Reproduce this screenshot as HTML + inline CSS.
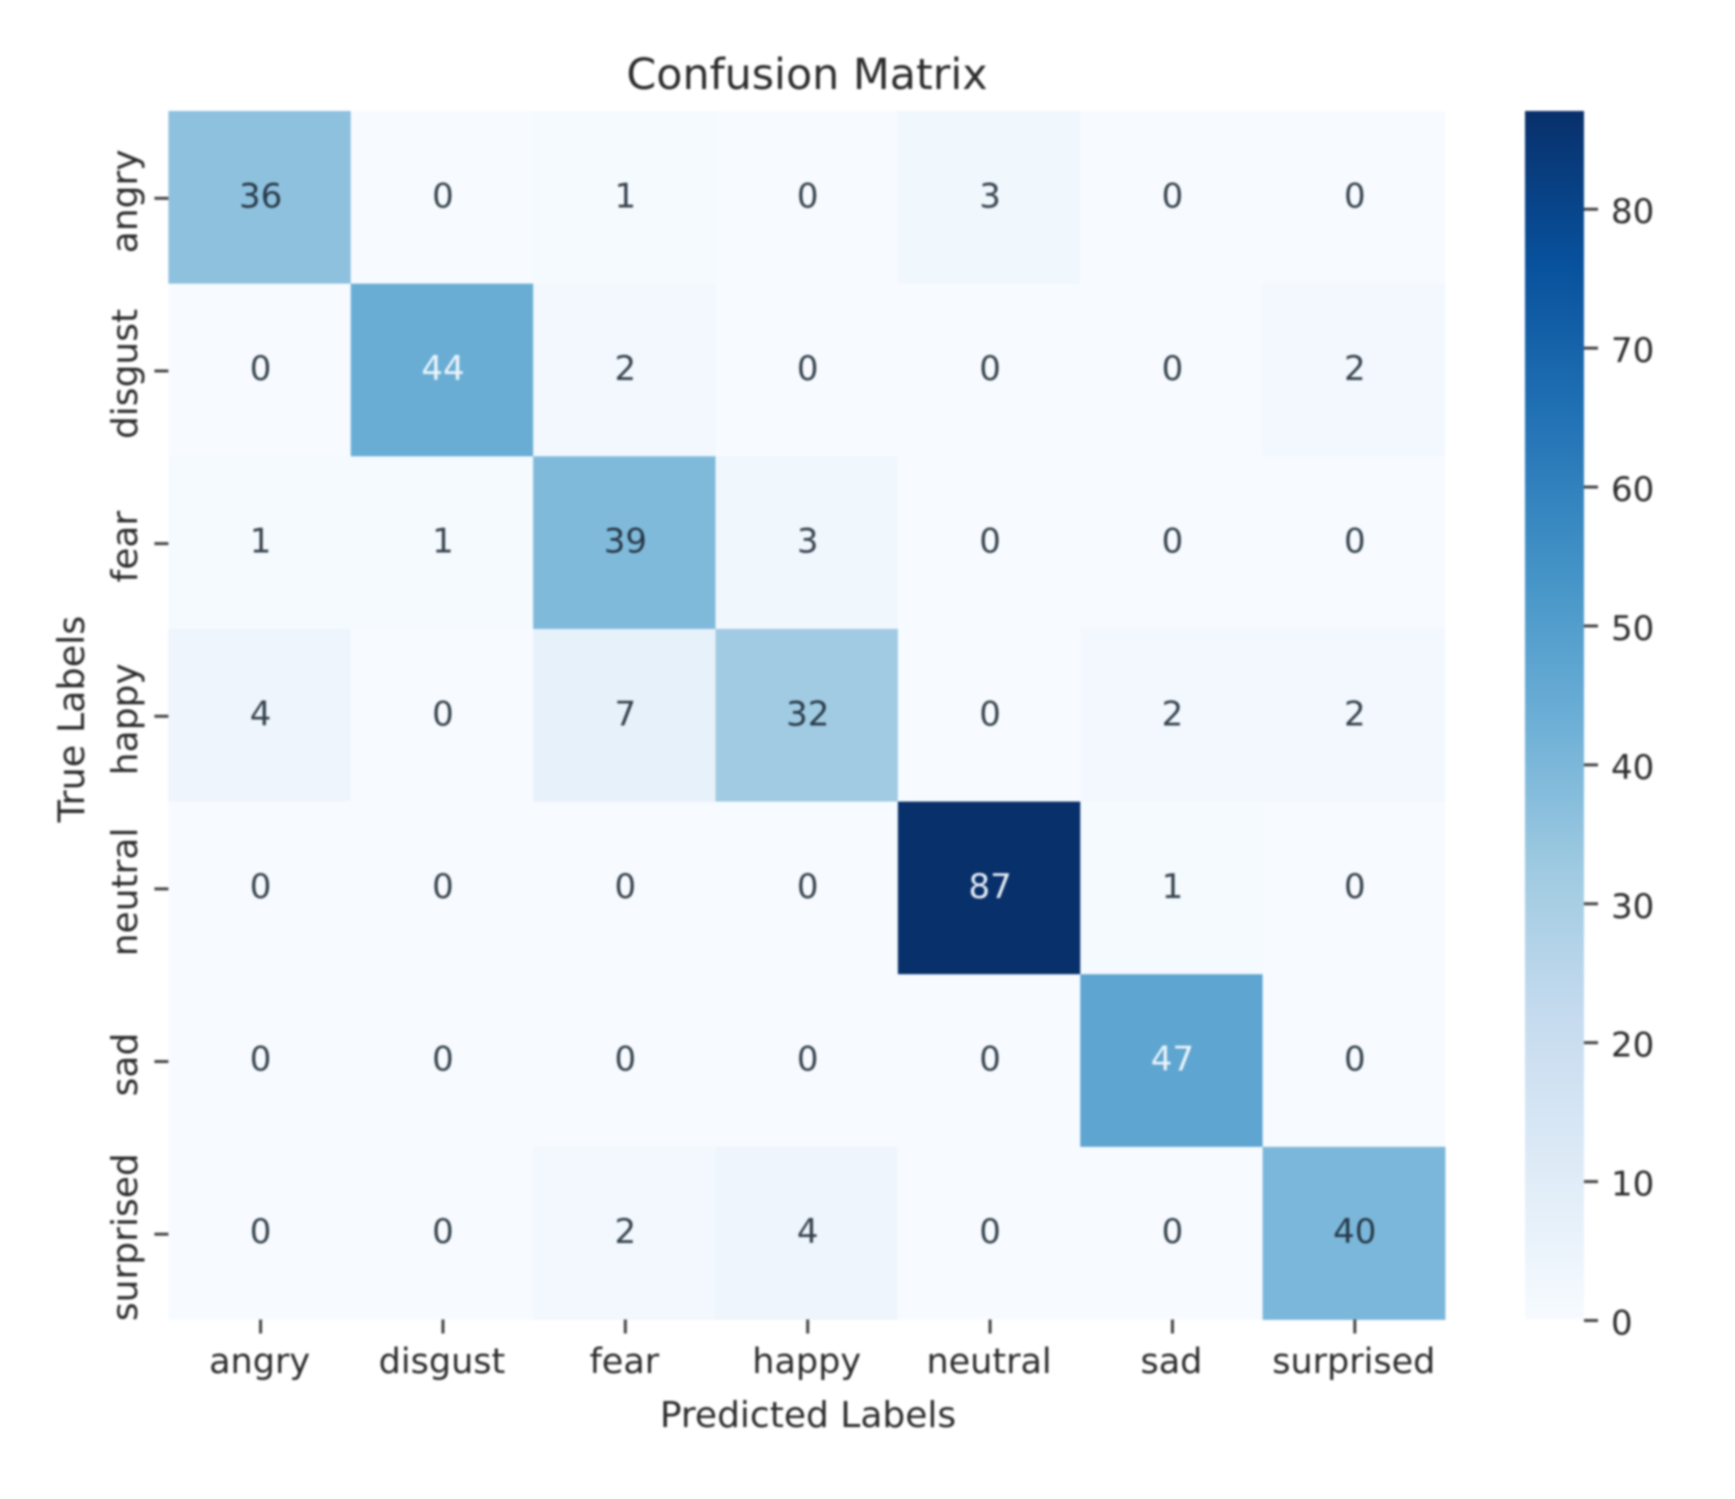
<!DOCTYPE html>
<html lang="en">
<head>
<meta charset="utf-8">
<title>Confusion Matrix</title>
<style>
html,body{margin:0;padding:0;background:#fff;width:1735px;height:1499px;overflow:hidden}
svg{display:block;filter:blur(1.1px)}
text{font-family:"DejaVu Sans","Liberation Sans",sans-serif;fill:#2c2c2c}
</style>
</head>
<body>
<svg id="chart" xmlns="http://www.w3.org/2000/svg" width="1735" height="1499" viewBox="0 0 1735 1499">
  <defs><linearGradient id="cbar-gradient" x1="0" y1="1" x2="0" y2="0"></linearGradient></defs>
  <rect x="0" y="0" width="1735" height="1499" fill="#fff"/>
  <g id="cells"></g>
  <g id="annotations"></g>
  <g id="x-axis"></g>
  <g id="y-axis"></g>
  <g id="colorbar">
    <rect id="cbar-rect" fill="url(#cbar-gradient)"/>
  </g>
  <text x="807" y="89" font-size="42.8" text-anchor="middle">Confusion Matrix</text>
  <text x="808" y="1427" font-size="36" text-anchor="middle">Predicted Labels</text>
  <text transform="translate(84 719) rotate(-90)" font-size="36.5" text-anchor="middle">True Labels</text>
</svg>
<script>
const categories = ['angry', 'disgust', 'fear', 'happy', 'neutral', 'sad', 'surprised'];
const rowAngry = [36, 0, 1, 0, 3, 0, 0];
const rowDisgust = [0, 44, 2, 0, 0, 0, 2];
const rowFear = [1, 1, 39, 3, 0, 0, 0];
const rowHappy = [4, 0, 7, 32, 0, 2, 2];
const rowNeutral = [0, 0, 0, 0, 87, 1, 0];
const rowSad = [0, 0, 0, 0, 0, 47, 0];
const rowSurprised = [0, 0, 2, 4, 0, 0, 40];
const colorbarTicks = [0, 10, 20, 30, 40, 50, 60, 70, 80];

const matrix = [rowAngry, rowDisgust, rowFear, rowHappy, rowNeutral, rowSad, rowSurprised];
const blues = ['#f7fbff', '#deebf7', '#c6dbef', '#9ecae1', '#6baed6', '#4292c6', '#2171b5', '#08519c', '#08306b'];
const NS = 'http://www.w3.org/2000/svg';
const plot = { left: 168.4, right: 1445, top: 111, bottom: 1319.5 };
const bar = { left: 1525, right: 1584 };
const vmax = Math.max(...matrix.flat());

const xBand = i => plot.left + i * (plot.right - plot.left) / categories.length;
const yBand = i => plot.top + i * (plot.bottom - plot.top) / categories.length;
const yValue = v => plot.bottom - (v / vmax) * (plot.bottom - plot.top);

function hexToRgb(h) {
  return [1, 3, 5].map(i => parseInt(h.substr(i, 2), 16));
}
function colorFor(t) {
  const p = Math.max(0, Math.min(1, t)) * (blues.length - 1);
  const i = Math.min(Math.floor(p), blues.length - 2);
  const a = hexToRgb(blues[i]);
  const b = hexToRgb(blues[i + 1]);
  const f = p - i;
  const c = a.map((x, k) => Math.round(x + (b[k] - x) * f));
  return 'rgb(' + c.join(',') + ')';
}
function make(tag, parent) {
  const el = document.createElementNS(NS, tag);
  parent.appendChild(el);
  return el;
}
function setAll(el, props) {
  Object.keys(props).forEach(k => el.setAttribute(k, props[k]));
}

const cellsG = document.getElementById('cells');
const annG = document.getElementById('annotations');
const xG = document.getElementById('x-axis');
const yG = document.getElementById('y-axis');
const cbG = document.getElementById('colorbar');

matrix.forEach((row, r) => {
  row.forEach((value, c) => {
    const rect = make('rect', cellsG);
    
    
    setAll(rect, { x: xBand(c), y: yBand(r), width: xBand(c + 1) - xBand(c) + 0.4, height: yBand(r + 1) - yBand(r) + 0.4, fill: colorFor(value / vmax) });

    const label = make('text', annG);
    
    
    const light = value / vmax > 0.49;
    setAll(label, { x: (xBand(c) + xBand(c + 1)) / 2 + 1, y: (yBand(r) + yBand(r + 1)) / 2 + 10, 'font-size': 34, 'text-anchor': 'middle' });
    label.style.fill = light ? '#f4f9fd' : '#1b2834';
    label.style.opacity = light ? 0.95 : 0.88;
    label.textContent = value;
  });
});

categories.forEach((name, i) => {
  const xc = (xBand(i) + xBand(i + 1)) / 2 + 1;
  const xTick = make('line', xG);
  
  
  setAll(xTick, { x1: xc, x2: xc, y1: plot.bottom, y2: plot.bottom + 14, stroke: '#444', 'stroke-width': 3 });
  const xLabel = make('text', xG);
  
  
  setAll(xLabel, { x: xc - 1, y: 1373, 'font-size': 35, 'text-anchor': 'middle' });
  xLabel.textContent = name;

  const yc = (yBand(i) + yBand(i + 1)) / 2 + 1;
  const yTick = make('line', yG);
  
  
  setAll(yTick, { x1: plot.left - 14, x2: plot.left, y1: yc, y2: yc, stroke: '#444', 'stroke-width': 3 });
  const yLabel = make('text', yG);
  
  
  setAll(yLabel, { transform: 'translate(137 ' + (yc + 3) + ') rotate(-90)', 'font-size': 36, 'text-anchor': 'middle' });
  yLabel.textContent = name;
});

const gradient = document.getElementById('cbar-gradient');
blues.forEach((color, i) => {
  const stop = make('stop', gradient);
  stop.setAttribute('offset', i / (blues.length - 1));
  stop.setAttribute('stop-color', color);
});
setAll(document.getElementById('cbar-rect'), { x: bar.left, y: plot.top, width: bar.right - bar.left, height: plot.bottom - plot.top });

colorbarTicks.forEach(v => {
  const y = yValue(v) + 1;
  const tick = make('line', cbG);
  
  
  setAll(tick, { x1: bar.right, x2: bar.right + 14, y1: y, y2: y, stroke: '#444', 'stroke-width': 3 });
  const label = make('text', cbG);
  
  
  setAll(label, { x: 1611, y: y + 14, 'font-size': 34 });
  label.textContent = v;
});
</script>
</body>
</html>
